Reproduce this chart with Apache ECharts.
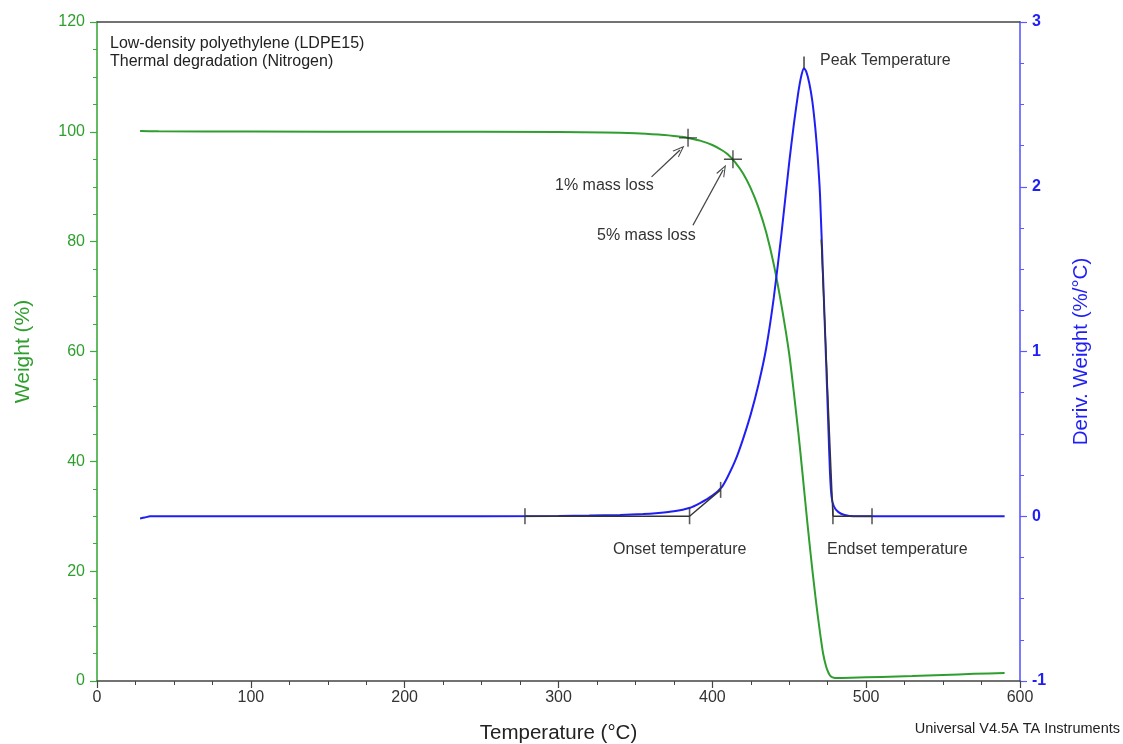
<!DOCTYPE html>
<html>
<head>
<meta charset="utf-8">
<script src="https://cdn.jsdelivr.net/npm/echarts@6/dist/echarts.min.js"></script>
<style>
html,body{margin:0;padding:0;background:#fff;}
#chart{width:1123px;height:744px;}
</style>
</head>
<body>
<div id="chart"></div>
<script>
// ---- data ----
const weightCurve = [
  [28,100.15],[40,100.1],[100,100.05],[200,100.02],[300,99.97],[330,99.9],[350,99.75],
  [365,99.5],[375,99.25],[380,99.1],[385,98.85],[392,98.4],[400,97.6],[406.3,96.65],
  [410,95.9],[415,94.4],[420,92.4],[425,89.7],[430,86.2],[435,81.7],[440,75.8],
  [445,68.3],[450,59.5],[453,52.5],[456,45],[458,39.5],[459.6,35],[461,31],[463,25.5],
  [465,20.3],[467,15.4],[468.5,12.0],[470,8.8],[472,5.0],[474,2.6],[475.5,1.5],
  [476.5,1.0],[477.5,0.75],[479,0.6],[481,0.55],[490,0.6],[510,0.75],[530,0.9],
  [550,1.1],[570,1.3],[590,1.45]
];
const derivCurve = [
  [28,-0.013],[31,-0.008],[34.5,0],[100,0],[200,0],[300,0.002],[320,0.004],[340,0.008],
  [355,0.013],[365,0.02],[375,0.03],[385,0.05],[392,0.08],[400,0.125],[406,0.175],
  [410,0.24],[415,0.34],[420,0.47],[425,0.62],[430,0.80],[435,1.02],[440,1.33],
  [445,1.72],[450,2.15],[453,2.38],[456,2.58],[458,2.68],[459.6,2.72],[461,2.70],
  [463,2.63],[465,2.52],[467,2.35],[468.5,2.18],[470,1.95],[472,1.45],[474,0.93],
  [475.5,0.52],[476.5,0.26],[477.5,0.12],[479,0.06],[482,0.025],[486,0.008],[492,0],[590,0]
];
const massLossPoints = [[384.2,98.9],[413.4,95.0]];
const arrow1 = [[360.5,91.8],[379,96.7]];
const arrow5 = [[387.4,83.0],[407,93.05]];
const onsetBaseline = [[278.2,0],[385.2,0]];
const onsetTangent = [[385.2,0],[405.4,0.16]];
const onsetTicks = [[278.2,0],[385.2,0],[405.4,0.16]];
const endsetBaseline = [[478.4,0],[503.8,0]];
const endsetTangent = [[470.8,1.68],[478.4,0]];
const endsetTicks = [[478.4,0],[503.8,0]];
const peakMark = [[459.6,2.72],[459.6,2.79]];

const xTicks = {min:0,max:600,interval:100};
const yLeft = {min:0,max:120,interval:20};
const yRight = {min:-1,max:3,interval:1};

// ---- styles ----
const GREEN = '#2f9e2f';
const GREEN_AX = '#3caa3c';
const BLUE = '#1f1ff5';
const BLUE_AX = '#5a5aff';
const INK = '#333333';
const FONT = 'Liberation Sans, Arial, sans-serif';

const chart = echarts.init(document.getElementById('chart'));
const plusPath = 'path://M0,8.3h18v1.4h-18z M8.3,0h1.4v18h-1.4z';
const chevron = 'path://M0,10 L5,0 L10,10 L8.8,10 L5,2.4 L1.2,10 Z';

function segSeries(data){
  return {type:'line', yAxisIndex:1, data:data, symbol:'none', silent:true, z:5,
    lineStyle:{color:INK, width:1.4}, animation:false};
}

chart.setOption({
  animation:false,
  textStyle:{fontFamily:FONT},
  grid:{left:97,right:103,top:22,bottom:63,containLabel:false,outerBoundsMode:'none'},
  xAxis:[{
    type:'value', min:xTicks.min, max:xTicks.max, interval:xTicks.interval,
    name:'Temperature (°C)', nameLocation:'middle', nameGap:42,
    nameTextStyle:{fontSize:20.5,color:'#222',fontFamily:FONT},
    axisLine:{show:true,onZero:false,lineStyle:{color:'#444',width:1.5}},
    axisTick:{show:true,length:7,lineStyle:{color:'#444',width:1.2}},
    minorTick:{show:true,splitNumber:4,length:4,lineStyle:{color:'#444',width:1}},
    axisLabel:{fontSize:16,color:'#333',margin:9,fontFamily:FONT},
    splitLine:{show:false}
  },{
    type:'value', position:'top', min:xTicks.min, max:xTicks.max,
    axisLine:{show:true,onZero:false,lineStyle:{color:'#444',width:1.5}},
    axisTick:{show:false}, axisLabel:{show:false}, splitLine:{show:false}
  }],
  yAxis:[{
    type:'value', min:yLeft.min, max:yLeft.max, interval:yLeft.interval, position:'left',
    name:'Weight (%)', nameLocation:'middle', nameGap:63, nameRotate:90,
    nameTextStyle:{fontSize:21,color:GREEN,fontFamily:FONT},
    axisLine:{show:true,onZero:false,lineStyle:{color:GREEN_AX,width:1.6}},
    axisTick:{show:true,length:7,lineStyle:{color:GREEN_AX,width:1.2}},
    minorTick:{show:true,splitNumber:4,length:4,lineStyle:{color:GREEN_AX,width:1}},
    axisLabel:{fontSize:16,color:GREEN,margin:12,fontFamily:FONT},
    splitLine:{show:false}
  },{
    type:'value', min:yRight.min, max:yRight.max, interval:yRight.interval, position:'right',
    name:'Deriv. Weight (%/°C)', nameLocation:'middle', nameGap:51, nameRotate:90,
    nameTextStyle:{fontSize:20.5,color:BLUE,fontFamily:FONT},
    axisLine:{show:true,onZero:false,lineStyle:{color:BLUE_AX,width:1.6}},
    axisTick:{show:true,length:7,lineStyle:{color:BLUE_AX,width:1.2}},
    minorTick:{show:true,splitNumber:4,length:4,lineStyle:{color:BLUE_AX,width:1}},
    axisLabel:{fontSize:16,color:BLUE,margin:12,fontWeight:'bold',fontFamily:FONT},
    splitLine:{show:false}
  }],
  series:[
    {type:'line', name:'Weight', yAxisIndex:0, data:weightCurve, symbol:'none',
     smooth:0.2, lineStyle:{color:GREEN,width:2}, z:3},
    {type:'line', name:'Deriv. Weight', yAxisIndex:1, data:derivCurve, symbol:'none',
     smooth:0.2, lineStyle:{color:BLUE,width:2}, z:3},
    segSeries(onsetBaseline), segSeries(onsetTangent),
    segSeries(endsetBaseline), segSeries(endsetTangent), segSeries(peakMark),
    {type:'scatter', yAxisIndex:1, data:onsetTicks.concat(endsetTicks), symbol:'rect',
     symbolSize:[1.6,16], itemStyle:{color:INK}, silent:true, z:6},
    {type:'scatter', yAxisIndex:0, data:massLossPoints, symbol:plusPath, symbolSize:18,
     itemStyle:{color:'#222'}, silent:true, z:6,
     markLine:{silent:true, symbol:['none',chevron], symbolSize:[9,12],
       lineStyle:{color:'#444',width:1.3,type:'solid'}, label:{show:false},
       data:[
         [{coord:arrow1[0]},{coord:arrow1[1]}],
         [{coord:arrow5[0]},{coord:arrow5[1]}]
       ]}}
  ],
  graphic:[
    {type:'text', left:110, top:35, style:{text:'Low-density polyethylene (LDPE15)\nThermal degradation (Nitrogen)', font:'16px '+FONT, fill:'#222', lineHeight:18}},
    {type:'text', left:555, top:178, style:{text:'1% mass loss', font:'16px '+FONT, fill:INK}},
    {type:'text', left:597, top:228, style:{text:'5% mass loss', font:'16px '+FONT, fill:INK}},
    {type:'text', left:820, top:53, style:{text:'Peak Temperature', font:'16px '+FONT, fill:INK}},
    {type:'text', left:613, top:542, style:{text:'Onset temperature', font:'16px '+FONT, fill:INK}},
    {type:'text', left:827, top:542, style:{text:'Endset temperature', font:'16px '+FONT, fill:INK}},
    {type:'text', right:3, top:721, style:{text:'Universal V4.5A TA Instruments', font:'14.5px '+FONT, fill:'#222'}}
  ]
});
</script>
</body>
</html>
